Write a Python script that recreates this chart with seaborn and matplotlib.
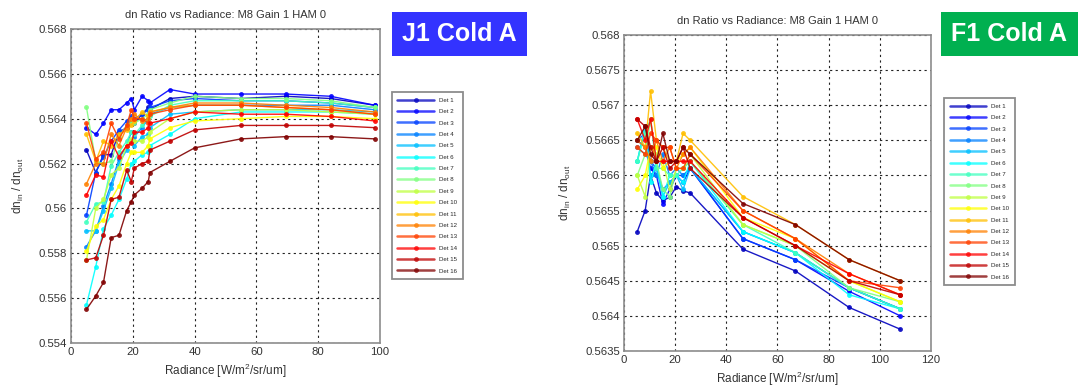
import numpy as np
import pandas as pd
import matplotlib
matplotlib.use('Agg')
import matplotlib.pyplot as plt
import matplotlib.ticker as mticker
from matplotlib.patches import Rectangle
import seaborn as sns

# detector names
dets = ['Det %d' % i for i in range(1, 17)]

# ---- J1 Cold A data ----
j1_radiance = [5, 8, 10.5, 13, 15.5, 18, 19.5, 20.5, 23, 25, 25.5, 32, 40, 55, 69.5, 84, 98.3]
j1_ratio = [
    [0.5626, 0.5616, 0.5624, 0.5624, 0.5634, 0.5636, 0.5638, 0.5638, 0.5642, 0.5645, 0.5644, 0.5649, 0.5650, 0.5649, 0.5650, 0.5649, 0.5646],
    [0.5636, 0.5633, 0.5638, 0.5644, 0.5644, 0.5647, 0.5649, 0.5644, 0.5650, 0.5648, 0.5647, 0.5653, 0.5651, 0.5651, 0.5651, 0.5650, 0.5646],
    [0.5597, 0.5616, 0.5623, 0.5630, 0.5635, 0.5639, 0.5641, 0.5640, 0.5642, 0.5644, 0.5645, 0.5648, 0.5649, 0.5648, 0.5648, 0.5647, 0.5645],
    [0.5583, 0.5590, 0.5601, 0.5611, 0.5622, 0.5628, 0.5634, 0.5632, 0.5636, 0.5640, 0.5642, 0.5645, 0.5646, 0.5646, 0.5646, 0.5646, 0.5644],
    [0.5590, 0.5590, 0.5599, 0.5609, 0.5620, 0.5626, 0.5630, 0.5628, 0.5632, 0.5633, 0.5636, 0.5642, 0.5643, 0.5644, 0.5644, 0.5644, 0.5643],
    [0.5557, 0.5574, 0.5591, 0.5597, 0.5604, 0.5613, 0.5620, 0.5621, 0.5624, 0.5625, 0.5628, 0.5633, 0.5640, 0.5643, 0.5643, 0.5643, 0.5642],
    [0.5594, 0.5602, 0.5603, 0.5619, 0.5625, 0.5630, 0.5634, 0.5633, 0.5637, 0.5640, 0.5641, 0.5646, 0.5648, 0.5648, 0.5648, 0.5647, 0.5645],
    [0.5645, 0.5621, 0.5620, 0.5621, 0.5632, 0.5637, 0.5638, 0.5638, 0.5640, 0.5642, 0.5644, 0.5647, 0.5650, 0.5649, 0.5649, 0.5648, 0.5645],
    [0.5577, 0.5600, 0.5604, 0.5615, 0.5618, 0.5628, 0.5631, 0.5630, 0.5630, 0.5632, 0.5634, 0.5640, 0.5643, 0.5644, 0.5644, 0.5643, 0.5642],
    [0.5581, 0.5592, 0.5595, 0.5604, 0.5610, 0.5620, 0.5625, 0.5625, 0.5625, 0.5628, 0.5631, 0.5636, 0.5639, 0.5640, 0.5641, 0.5641, 0.5640],
    [0.5633, 0.5621, 0.5630, 0.5628, 0.5633, 0.5635, 0.5637, 0.5639, 0.5643, 0.5641, 0.5643, 0.5645, 0.5646, 0.5646, 0.5645, 0.5644, 0.5642],
    [0.5611, 0.5620, 0.5620, 0.5633, 0.5628, 0.5636, 0.5640, 0.5642, 0.5639, 0.5640, 0.5643, 0.5645, 0.5647, 0.5647, 0.5646, 0.5645, 0.5643],
    [0.5638, 0.5622, 0.5625, 0.5638, 0.5631, 0.5637, 0.5644, 0.5640, 0.5640, 0.5638, 0.5642, 0.5644, 0.5646, 0.5646, 0.5645, 0.5644, 0.5642],
    [0.5606, 0.5615, 0.5614, 0.5630, 0.5623, 0.5628, 0.5629, 0.5634, 0.5634, 0.5636, 0.5638, 0.5640, 0.5643, 0.5642, 0.5642, 0.5641, 0.5639],
    [0.5577, 0.5578, 0.5588, 0.5604, 0.5605, 0.5617, 0.5612, 0.5618, 0.5620, 0.5621, 0.5626, 0.5630, 0.5635, 0.5637, 0.5637, 0.5637, 0.5636],
    [0.5555, 0.5561, 0.5567, 0.5587, 0.5588, 0.5599, 0.5603, 0.5606, 0.5609, 0.5612, 0.5616, 0.5621, 0.5627, 0.5631, 0.5632, 0.5632, 0.5631],
]

# ---- F1 Cold A data ----
f1_radiance = [5.2, 8.3, 10.4, 12.7, 15.2, 17.9, 20.5, 23.1, 25.9, 46.5, 67, 88, 108]
f1_ratio = [
    [0.5652, 0.5655, 0.5660, 0.56575, 0.56564, 0.56569, 0.56584, 0.56578, 0.56575, 0.56495, 0.56464, 0.56412, 0.56381],
    [0.5665, 0.5664, 0.5661, 0.5660, 0.5656, 0.5658, 0.5660, 0.5659, 0.5661, 0.5651, 0.5648, 0.56435, 0.5640],
    [0.5665, 0.5666, 0.5662, 0.5661, 0.5658, 0.5659, 0.5660, 0.5660, 0.5661, 0.5651, 0.5648, 0.5644, 0.5641],
    [0.5664, 0.5663, 0.5662, 0.5660, 0.5663, 0.5660, 0.5661, 0.5660, 0.5661, 0.5652, 0.5649, 0.5644, 0.5641],
    [0.5662, 0.5667, 0.5660, 0.5661, 0.5657, 0.5659, 0.5660, 0.5658, 0.5661, 0.5652, 0.5649, 0.5644, 0.5641],
    [0.5662, 0.5667, 0.5659, 0.5662, 0.5657, 0.5660, 0.5660, 0.5659, 0.5662, 0.5652, 0.5649, 0.5643, 0.5641],
    [0.5662, 0.5666, 0.5668, 0.5661, 0.5661, 0.5660, 0.5660, 0.5661, 0.5662, 0.5653, 0.5649, 0.5644, 0.5641],
    [0.5660, 0.5663, 0.5668, 0.5662, 0.5658, 0.5657, 0.5661, 0.5661, 0.5662, 0.5653, 0.5650, 0.5644, 0.5642],
    [0.5660, 0.5657, 0.5664, 0.5663, 0.5662, 0.5658, 0.5661, 0.5661, 0.5663, 0.5653, 0.5650, 0.5645, 0.5642],
    [0.5658, 0.5660, 0.5664, 0.5664, 0.5661, 0.5662, 0.5662, 0.5663, 0.5664, 0.5654, 0.5651, 0.5645, 0.5642],
    [0.5666, 0.5664, 0.5672, 0.5665, 0.5664, 0.5662, 0.5662, 0.5666, 0.5665, 0.5657, 0.5653, 0.5648, 0.5645],
    [0.5665, 0.5664, 0.5662, 0.5665, 0.5662, 0.5664, 0.5661, 0.5663, 0.5664, 0.5655, 0.5651, 0.5646, 0.5643],
    [0.5664, 0.5663, 0.5666, 0.5665, 0.5664, 0.5664, 0.5661, 0.5661, 0.5663, 0.5655, 0.5651, 0.5645, 0.5644],
    [0.5668, 0.5665, 0.5668, 0.5662, 0.5662, 0.5662, 0.5662, 0.5662, 0.5662, 0.5654, 0.5650, 0.5646, 0.5643],
    [0.5668, 0.5667, 0.5664, 0.5662, 0.5664, 0.5661, 0.5662, 0.5664, 0.5661, 0.5654, 0.5650, 0.5645, 0.5643],
    [0.5665, 0.5667, 0.5663, 0.5662, 0.5666, 0.5662, 0.5662, 0.5664, 0.5663, 0.5656, 0.5653, 0.5648, 0.5645],
]

# matlab jet(16)
jet16 = [(0, 0, .75), (0, 0, 1), (0, .25, 1), (0, .5, 1), (0, .75, 1), (0, 1, 1),
         (.25, 1, .75), (.5, 1, .5), (.75, 1, .25), (1, 1, 0), (1, .75, 0), (1, .5, 0),
         (1, .25, 0), (1, 0, 0), (.75, 0, 0), (.5, 0, 0)]


def to_long(radiance, ratio):
    rows = []
    for name, vals in zip(dets, ratio):
        for x, y in zip(radiance, vals):
            rows.append((name, x, y))
    return pd.DataFrame(rows, columns=['det', 'radiance', 'ratio'])


sns.set_style('white')
plt.rcParams['font.family'] = ['Liberation Sans', 'DejaVu Sans']
plt.rcParams['mathtext.fontset'] = 'custom'
plt.rcParams['mathtext.rm'] = 'Liberation Sans'
plt.rcParams['mathtext.it'] = 'Liberation Sans'

fig = plt.figure(figsize=(10.78, 3.88), dpi=100)
ax1 = fig.add_axes([0.0659, 0.1160, 0.2866, 0.8093])
ax2 = fig.add_axes([0.5788, 0.0954, 0.2848, 0.8144])

panels = [
    (ax1, to_long(j1_radiance, j1_ratio), (0, 100), np.arange(0, 101, 20),
     (0.554, 0.568), np.arange(0.554, 0.5681, 0.002), (0.3636, 0.7629)),
    (ax2, to_long(f1_radiance, f1_ratio), (0, 120), np.arange(0, 121, 20),
     (0.5635, 0.568), np.arange(0.5635, 0.56801, 0.0005), (0.8757, 0.7474)),
]

for ax, df, xl, xt, yl, yt, leg_pos in panels:
    sns.lineplot(data=df, x='radiance', y='ratio', hue='det', hue_order=dets,
                 palette=jet16, marker='o', markersize=3.5, markeredgewidth=0,
                 linewidth=1.0, alpha=0.9, estimator=None, sort=False, ax=ax)
    ax.set_xlim(*xl)
    ax.set_ylim(*yl)
    ax.set_xticks(xt)
    ax.set_yticks(yt)
    ax.yaxis.set_major_formatter(mticker.FuncFormatter(lambda v, p: '%g' % round(v, 4)))
    ax.grid(True, color='#222222', linestyle=(0, (2, 3)), linewidth=0.8)
    for s in ax.spines.values():
        s.set_color('#8c8c8c')
        s.set_linewidth(1.2)
    ax.tick_params(direction='in', length=3, color='#8c8c8c', labelsize=8.2,
                   labelcolor='#333333', pad=3)
    ax.set_title('dn Ratio vs Radiance: M8 Gain 1 HAM 0', fontsize=8, color='#333333', pad=8)
    ax.set_xlabel('Radiance [W/m$^2$/sr/um]', fontsize=8.5, color='#333333', labelpad=3)
    ax.set_ylabel('dn$_{\\mathrm{in}}$ / dn$_{\\mathrm{out}}$', fontsize=8.5, color='#333333', labelpad=9)
    handles, labels = ax.get_legend_handles_labels()
    ax.get_legend().remove()
    for h in handles:
        h.set_linewidth(1.8)
        h.set_alpha(0.75)
    leg = ax.legend(handles, labels, loc='upper left', bbox_to_anchor=leg_pos,
                    bbox_transform=fig.transFigure, fontsize=4.4, labelspacing=1.0,
                    handlelength=6.0, handletextpad=0.8, borderpad=0.9, borderaxespad=0,
                    fancybox=False, framealpha=1, edgecolor='#8c8c8c')
    leg.get_frame().set_linewidth(1.3)

# label boxes
for x0, w, color, text in [(0.3636, 0.1252, '#3333ff', 'J1 Cold A'),
                           (0.8729, 0.1271, '#00b050', 'F1 Cold A')]:
    fig.patches.append(Rectangle((x0, 0.8557), w, 0.1134, transform=fig.transFigure,
                                 facecolor=color, edgecolor='none'))
    fig.text(x0 + w / 2, 0.8557 + 0.1134 / 2, text, color='white', fontsize=18,
             fontweight='bold', ha='center', va='center')

fig.savefig('out.png', dpi=100)
